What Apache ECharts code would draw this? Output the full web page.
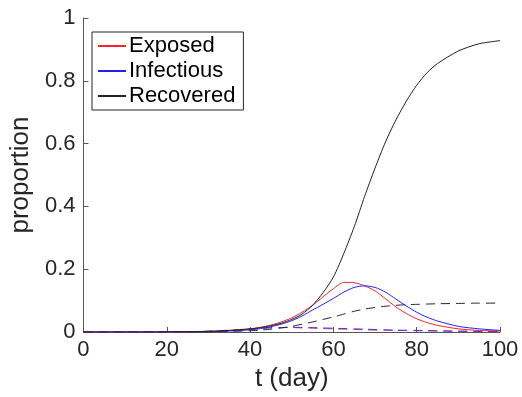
<!DOCTYPE html>
<html>
<head>
<meta charset="utf-8">
<script src="https://cdn.jsdelivr.net/npm/echarts@6/dist/echarts.min.js"></script>
<style>
  html, body { margin: 0; padding: 0; background: #fff; }
  #main { width: 522px; height: 397px; }
</style>
</head>
<body>
<div id="main"></div>
<script>
// time axis (days), denser where the curves bend
const days = [0, 5, 10, 15, 20, 25, 30, 35, 40, 42.5, 45, 47.5, 50, 52.5, 55, 57.5, 60, 62.5, 65, 67.5, 70, 72.5, 75, 77.5, 80, 82.5, 85, 90, 95, 100]

// solid curves
const exposed    = [0, 0, 0, 0, 0.0003, 0.001, 0.002, 0.005, 0.01, 0.015, 0.022, 0.032, 0.045, 0.063, 0.085, 0.112, 0.138, 0.158, 0.157, 0.147, 0.131, 0.106, 0.08, 0.059, 0.042, 0.03, 0.021, 0.01, 0.005, 0.003]
const infectious = [0, 0, 0, 0, 0.0002, 0.0005, 0.001, 0.003, 0.007, 0.011, 0.017, 0.025, 0.036, 0.051, 0.07, 0.088, 0.107, 0.127, 0.142, 0.147, 0.142, 0.127, 0.105, 0.083, 0.063, 0.047, 0.035, 0.018, 0.01, 0.005]
const recovered  = [0, 0, 0, 0, 0.0005, 0.001, 0.002, 0.005, 0.01, 0.014, 0.02, 0.028, 0.04, 0.057, 0.085, 0.125, 0.175, 0.25, 0.335, 0.432, 0.522, 0.605, 0.675, 0.735, 0.786, 0.826, 0.855, 0.895, 0.918, 0.928]

// dashed curves
const exposedD    = [0, 0, 0, 0, 0.0005, 0.001, 0.003, 0.006, 0.01, 0.012, 0.014, 0.014, 0.014, 0.013, 0.012, 0.011, 0.01, 0.009, 0.008, 0.007, 0.006, 0.0055, 0.005, 0.0045, 0.004, 0.0035, 0.003, 0.002, 0.002, 0.001]
const infectiousD = [0, 0, 0, 0, 0.0003, 0.001, 0.002, 0.004, 0.008, 0.011, 0.013, 0.014, 0.015, 0.0145, 0.014, 0.013, 0.012, 0.011, 0.01, 0.009, 0.008, 0.007, 0.006, 0.0055, 0.005, 0.0045, 0.004, 0.003, 0.002, 0.002]
const recoveredD  = [0, 0, 0, 0, 0.0002, 0.0005, 0.001, 0.002, 0.004, 0.006, 0.009, 0.013, 0.018, 0.025, 0.032, 0.04, 0.048, 0.057, 0.066, 0.073, 0.078, 0.082, 0.085, 0.087, 0.088, 0.089, 0.09, 0.091, 0.092, 0.092]

const pairs = (arr) => days.map((d, i) => [d, arr[i]])

const txt = '#262626'
const font = 'Liberation Sans'

const chart = echarts.init(document.getElementById('main'))

function line(name, arr, color, dashed) {
    return {
        name,
        type: 'line',
        smooth: 0.25,
        showSymbol: false,
        symbol: 'none',
        data: pairs(arr),
        lineStyle: { color, width: 1, type: dashed ? [9, 6] : 'solid' },
        itemStyle: { color },
        emphasis: { disabled: true }
    }
}

const option = {
    animation: false,
    textStyle: { fontFamily: font },
    grid: { left: 80, right: 22, top: 18, bottom: 62 },
    legend: {
        data: ['Exposed', 'Infectious', 'Recovered'],
        orient: 'vertical',
        left: 92,
        top: 32,
        padding: [3, 8, 3, 6],
        itemGap: 3,
        itemWidth: 28,
        itemHeight: 2,
        icon: 'rect',
        borderColor: txt,
        borderWidth: 1,
        backgroundColor: '#fff',
        textStyle: { color: '#000', fontSize: 22, fontFamily: font, padding: [0, 0, 0, -2] }
    },
    xAxis: {
        type: 'value',
        min: 0,
        max: 100,
        interval: 20,
        name: 't (day)',
        nameLocation: 'middle',
        nameGap: 34,
        nameTextStyle: { color: txt, fontSize: 26, fontFamily: font },
        axisLine: { show: true, lineStyle: { color: '#555', width: 1 } },
        axisTick: { inside: true, length: 5, lineStyle: { color: '#555' } },
        axisLabel: { color: txt, fontSize: 22, margin: 7, fontFamily: font },
        splitLine: { show: false }
    },
    yAxis: {
        type: 'value',
        min: 0,
        max: 1,
        interval: 0.2,
        name: 'proportion',
        nameLocation: 'middle',
        nameGap: 47,
        nameTextStyle: { color: txt, fontSize: 26, fontFamily: font },
        axisLine: { show: true, lineStyle: { color: '#555', width: 1 } },
        axisTick: { show: true, inside: true, length: 5, lineStyle: { color: '#555' } },
        axisLabel: { color: txt, fontSize: 22, margin: 8, fontFamily: font },
        splitLine: { show: false }
    },
    series: [
        line('Exposed dashed', exposedD, '#ff3030', true),
        line('Infectious dashed', infectiousD, '#3030ff', true),
        line('Recovered dashed', recoveredD, '#222', true),
        line('Exposed', exposed, '#ff2020', false),
        line('Infectious', infectious, '#2020ff', false),
        line('Recovered', recovered, '#222', false)
    ]
}

chart.setOption(option)
</script>
</body>
</html>
